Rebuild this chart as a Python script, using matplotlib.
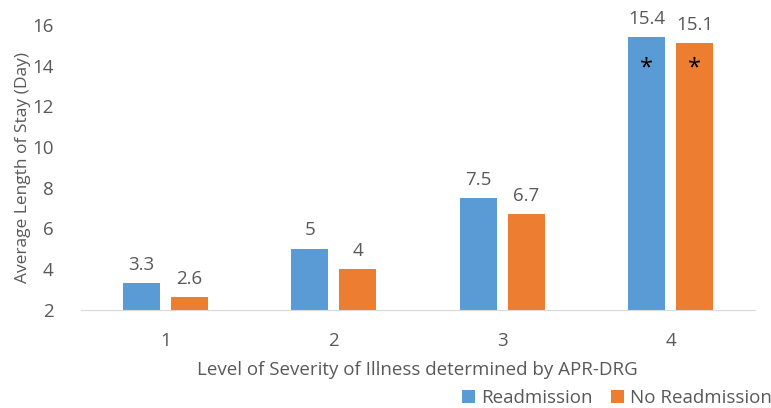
import numpy as np
import matplotlib.pyplot as plt

plt.rcParams['font.family'] = ['Open Sans', 'DejaVu Sans']

# data
niveis = ["1", "2", "3", "4"]
readmission = [3.3, 5, 7.5, 15.4]
no_readmission = [2.6, 4, 6.7, 15.1]
estrelas = ["", "", "", "*"]

azul = "#5B9BD5"
laranja = "#ED7D31"
cinza = "#595959"

fig = plt.figure(figsize=(7.71, 4.08), dpi=100)
ax = fig.add_axes([0.1054, 0.2414, 0.8736, 0.6973])

x = np.arange(len(niveis))
larg = 0.22
desl = 0.1424
base = 2

b1 = ax.bar(x - desl, np.array(readmission) - base, larg, bottom=base, color=azul, label="Readmission")
b2 = ax.bar(x + desl, np.array(no_readmission) - base, larg, bottom=base, color=laranja, label="No Readmission")

# rotulos dos valores
for xs, vals in [(x - desl, readmission), (x + desl, no_readmission)]:
    for xi, v, s in zip(xs, vals, estrelas):
        ax.annotate(f"{v:g}", (xi, v), xytext=(0, 13), textcoords="offset points",
                    ha="center", va="center", fontsize=13.5, color=cinza)
        if s:
            ax.text(xi, 13.85, s, ha="center", va="center", fontsize=17, color="black")

ax.set_xlim(-0.5, 3.5)
ax.set_ylim(2, 16)
ax.set_yticks(range(2, 17, 2))
ax.set_xticks(x)
ax.set_xticklabels(niveis)
ax.tick_params(axis="both", length=0, labelsize=13.5, colors=cinza)
ax.tick_params(axis="y", pad=20)
ax.tick_params(axis="x", pad=16)

for lado in ["top", "right", "left"]:
    ax.spines[lado].set_visible(False)
ax.spines["bottom"].set_color("#D9D9D9")

ax.set_ylabel("Average Length of Stay (Day)", fontsize=12.5, color=cinza)
ax.yaxis.set_label_coords(-0.074, 0.5)
fig.text(417 / 771, 1 - 370 / 408, "Level of Severity of Illness determined by APR-DRG",
         ha="center", va="center", fontsize=13.5, color=cinza)

leg = fig.legend(handles=[b1, b2], loc="center", bbox_to_anchor=(0.80, 1 - 398 / 408),
                 ncol=2, frameon=False, fontsize=13.5, handlelength=0.7, handleheight=0.7,
                 handletextpad=0.3, columnspacing=1.0)
for t in leg.get_texts():
    t.set_color(cinza)

plt.savefig("out.png", dpi=100)
